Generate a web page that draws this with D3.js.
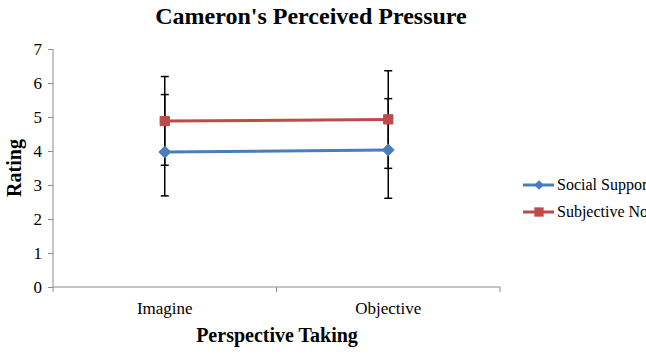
<!DOCTYPE html>
<html lang="en">
  <head>
    <meta charset="UTF-8" />
    <title>Cameron's Perceived Pressure</title>
    <style>
      body { margin: 0; background: #fff; }
      svg { display: block; font-family: "Liberation Serif", "Times New Roman", serif; }
      .axis path, .axis line { stroke: #8c8c8c; }
      .axis text { font-family: "Liberation Serif", "Times New Roman", serif; font-size: 17px; fill: #000; }
    </style>
    <script src="https://d3js.org/d3.v7.min.js"></script>
  </head>
  <body>
    <div id="chart"></div>
    <script>
      const categories = ["Imagine", "Objective"];
      const seriesNames = ["Social Support", "Subjective Norms"];
      const socialSupport = [3.97, 4.03];
      const subjectiveNorms = [4.88, 4.93];
      // error bar ends
      const socialLow = [2.68, 2.61];
      const socialHigh = [5.66, 5.54];
      const normsLow = [3.58, 3.49];
      const normsHigh = [6.19, 6.36];
      const yTicks = [0, 1, 2, 3, 4, 5, 6, 7];

      const series = [
        { name: seriesNames[0], values: socialSupport, low: socialLow, high: socialHigh, color: "#4a7ebb", shape: d3.symbolDiamond2, size: 90 },
        { name: seriesNames[1], values: subjectiveNorms, low: normsLow, high: normsHigh, color: "#be4b48", shape: d3.symbolSquare2, size: 110 }
      ];

      const W = 646, H = 356;
      const margin = { top: 49, left: 53, right: 146, bottom: 69 };
      const width = W - margin.left - margin.right;
      const height = H - margin.top - margin.bottom;

      const svg = d3.select("#chart").append("svg")
        .attr("width", W).attr("height", H);

      const g = svg.append("g")
        .attr("transform", `translate(${margin.left},${margin.top})`);

      const x = d3.scaleBand().domain(categories).range([0, width]);
      const y = d3.scaleLinear().domain([0, 7]).range([height, 0]);

      // y axis
      g.append("g").attr("class", "axis")
        .call(d3.axisLeft(y).tickValues(yTicks).tickFormat(d3.format("d")).tickSize(5).tickPadding(6))
        .call(a => a.select(".domain").attr("d", `M0,${height}V0`));

      // x axis with ticks at band edges
      const xa = g.append("g").attr("class", "axis")
        .attr("transform", `translate(0,${height})`);
      xa.append("line").attr("x1", 0).attr("x2", width).attr("stroke", "#8c8c8c");
      xa.selectAll(".edge").data([0, ...categories.map(c => x(c) + x.bandwidth())])
        .enter().append("line")
        .attr("x1", d => d).attr("x2", d => d)
        .attr("y1", 0).attr("y2", 5).attr("stroke", "#8c8c8c");
      xa.selectAll(".lbl").data(categories).enter().append("text")
        .attr("x", d => x(d) + x.bandwidth() / 2)
        .attr("y", 27)
        .attr("text-anchor", "middle")
        .text(d => d);

      const cx = c => x(c) + x.bandwidth() / 2;

      // error bars
      series.forEach(s => {
        categories.forEach((c, i) => {
          const eb = g.append("g").attr("stroke", "#000").attr("stroke-width", 1.5);
          eb.append("line").attr("x1", cx(c)).attr("x2", cx(c))
            .attr("y1", y(s.low[i])).attr("y2", y(s.high[i]));
          [s.low[i], s.high[i]].forEach(v => {
            eb.append("line").attr("x1", cx(c) - 4).attr("x2", cx(c) + 4)
              .attr("y1", y(v)).attr("y2", y(v));
          });
        });
      });

      // lines and markers
      const line = d3.line().x((d, i) => cx(categories[i])).y(d => y(d));
      series.forEach(s => {
        g.append("path").datum(s.values)
          .attr("d", line).attr("fill", "none")
          .attr("stroke", s.color).attr("stroke-width", 3);
        g.selectAll(null).data(s.values).enter().append("path")
          .attr("d", d3.symbol().type(s.shape).size(s.size))
          .attr("transform", (d, i) => `translate(${cx(categories[i])},${y(d)})`)
          .attr("fill", s.color).attr("stroke", s.color);
      });

      // title
      svg.append("text").attr("x", 311).attr("y", 24)
        .attr("text-anchor", "middle")
        .style("font-size", "24px").style("font-weight", "bold")
        .text("Cameron's Perceived Pressure");

      // axis titles
      svg.append("text")
        .attr("transform", `translate(21,${margin.top + height / 2}) rotate(-90)`)
        .attr("text-anchor", "middle")
        .style("font-size", "20px").style("font-weight", "bold")
        .text("Rating");
      svg.append("text").attr("x", 277).attr("y", 342)
        .attr("text-anchor", "middle")
        .style("font-size", "20px").style("font-weight", "bold")
        .text("Perspective Taking");

      // legend (clipped at the right edge, as in the source)
      const legend = svg.append("g").attr("transform", "translate(523,185)");
      series.forEach((s, i) => {
        const row = legend.append("g").attr("transform", `translate(0,${i * 27})`);
        row.append("line").attr("x1", 0).attr("x2", 31)
          .attr("stroke", s.color).attr("stroke-width", 3);
        row.append("path")
          .attr("d", d3.symbol().type(s.shape).size(s.shape === d3.symbolSquare2 ? 110 : 60))
          .attr("transform", "translate(16,0)")
          .attr("fill", s.color);
        row.append("text").attr("x", 34).attr("y", 5)
          .style("font-size", "16px").text(s.name);
      });
    </script>
  </body>
</html>
